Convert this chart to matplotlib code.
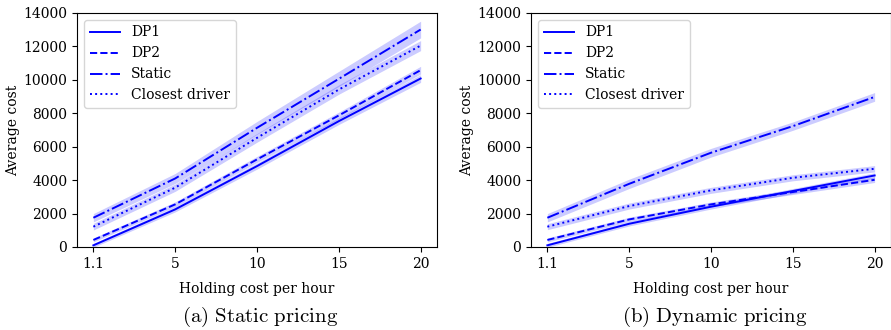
import numpy as np
import matplotlib
matplotlib.use("Agg")
import matplotlib.pyplot as plt

plt.rcParams['font.family'] = ['DejaVu Serif']
plt.rcParams['mathtext.fontset'] = 'cm'

# Data
holding = ["1.1", "5", "10", "15", "20"]

static_dp1 = [100, 2250, 4840, 7530, 10080]
static_dp2 = [420, 2550, 5240, 7870, 10580]
static_static = [1750, 4100, 7130, 10060, 13010]
static_closest = [1215, 3550, 6530, 9420, 12050]
static_err = {
    "DP1": [120, 150, 180, 200, 230],
    "DP2": [120, 150, 180, 200, 230],
    "Static": [250, 300, 380, 450, 500],
    "Closest driver": [200, 220, 260, 280, 300],
}

dyn_dp1 = [100, 1390, 2410, 3350, 4280]
dyn_dp2 = [420, 1650, 2550, 3290, 4020]
dyn_static = [1750, 3780, 5640, 7230, 8980]
dyn_closest = [1215, 2450, 3390, 4140, 4680]
dyn_err = {
    "DP1": [120, 130, 140, 150, 160],
    "DP2": [120, 130, 140, 150, 160],
    "Static": [250, 280, 260, 250, 260],
    "Closest driver": [180, 180, 180, 180, 190],
}

names = ["DP1", "DP2", "Static", "Closest driver"]
styles = ["-", "--", "-.", ":"]
color = "#0000ff"

fig = plt.figure(figsize=(8.91, 3.30), dpi=100)
ax1 = fig.add_axes([77/891, 1-247/330, 360/891, 234/330])
ax2 = fig.add_axes([531/891, 1-247/330, 360/891, 234/330])


def panel(ax, series, err, caption):
    x = np.arange(len(holding))
    for name, ls, y in zip(names, styles, series):
        y = np.array(y)
        e = np.array(err[name])
        ax.fill_between(x, y - e, y + e, color=color, alpha=0.2, linewidth=0)
        ax.plot(x, y, ls, color=color, lw=1.4, label=name)
    ax.set_xticks(x)
    ax.set_xticklabels(holding)
    ax.set_xlim(-0.2, 4.2)
    ax.set_ylim(0, 14000)
    ax.set_yticks(range(0, 14001, 2000))
    ax.tick_params(labelsize=10)
    ax.set_xlabel("Holding cost per hour", fontsize=10, labelpad=8)
    ax.set_ylabel("Average cost", fontsize=10, labelpad=2.5)
    ax.legend(loc="upper left", fontsize=10, handlelength=2.2,
              borderaxespad=0.5)
    pos = ax.get_position()
    fig.text((pos.x0 + pos.x1) / 2 + 0.004, 0.04, caption, ha="center",
             va="center", fontsize=15)


panel(ax1, [static_dp1, static_dp2, static_static, static_closest],
      static_err, r"$\mathrm{(a)\ Static\ pricing}$")
panel(ax2, [dyn_dp1, dyn_dp2, dyn_static, dyn_closest],
      dyn_err, r"$\mathrm{(b)\ Dynamic\ pricing}$")

fig.savefig("out.png", dpi=100)
